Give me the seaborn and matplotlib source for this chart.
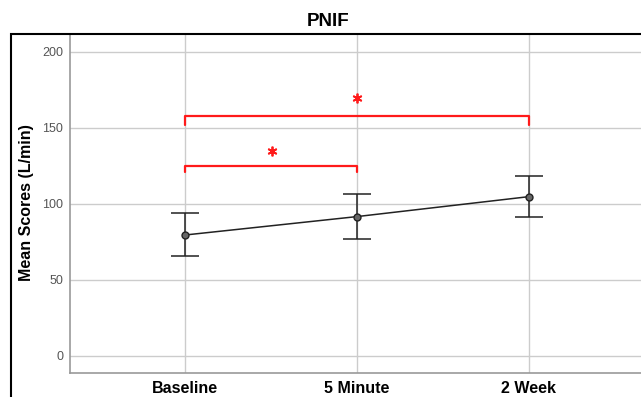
import numpy as np
import pandas as pd
import seaborn as sns
import matplotlib.pyplot as plt
from matplotlib.patches import Rectangle

# values
timepoints = ["Baseline", "5 Minute", "2 Week"]
mean_scores = [79.5, 91.6, 104.7]
err_low = [65.7, 76.7, 91.4]
err_high = [93.8, 106.5, 118.1]

# significance brackets: (start, end, bar height, drop, star x, star y)
brackets = [
    (0, 1, 124.9, 3.8, 0.506, 134.7),
    (0, 2, 157.5, 5.7, 1.0, 169.8),
]

dt = pd.DataFrame({"Time": timepoints, "Mean": mean_scores,
                   "Low": err_low, "High": err_high})
dt["pos"] = np.arange(len(dt))

sns.set_style("white")
plt.rcParams["font.family"] = ["Liberation Sans", "DejaVu Sans"]

fig = plt.figure(figsize=(6.41, 3.97), dpi=100)
ax = fig.add_axes([70 / 641, 24.3 / 397, 574 / 641, 338.4 / 397])

ax.errorbar(dt["pos"], dt["Mean"],
            yerr=[dt["Mean"] - dt["Low"], dt["High"] - dt["Mean"]],
            fmt="none", ecolor="#222222", elinewidth=1.1, capsize=10, capthick=1.1, zorder=3)
sns.lineplot(x="pos", y="Mean", data=dt, ax=ax, color="#222222", linewidth=1.1,
             marker="o", markersize=5, markerfacecolor="#666666",
             markeredgecolor="#222222", markeredgewidth=1, zorder=4)

for x0, x1, h, d, sx, sy in brackets:
    ax.plot([x0, x0, x1, x1], [h - d, h, h, h - d], color="#ff1a1a", linewidth=1.6, zorder=3)
    ax.plot([sx], [sy], marker=(6, 2, 0), markersize=7, color="#ff1a1a",
            markeredgewidth=1.3, linestyle="none")

ax.set_xlim(-0.67, 2.67)
ax.set_ylim(-11.0, 211.4)
ax.set_xticks(dt["pos"])
ax.set_xticklabels(dt["Time"], fontsize=11.5, fontweight="bold", color="black")
ax.set_yticks([0, 50, 100, 150, 200])
ax.tick_params(axis="y", labelsize=9, colors="#555555", length=4, width=0.8, pad=1)
ax.tick_params(axis="x", length=0, pad=6)
ax.grid(True, color="#cccccc", linewidth=1)
ax.set_axisbelow(True)
ax.set_xlabel("")
ax.set_ylabel("")

for side in ["top", "right"]:
    ax.spines[side].set_visible(False)
for side in ["left", "bottom"]:
    ax.spines[side].set_color("#999999")
    ax.spines[side].set_linewidth(1.2)

# outer chart frame
fig.patches.append(Rectangle((10.7 / 641, -0.2), 1.2, 0.2 + 362.7 / 397,
                             transform=fig.transFigure, fill=False,
                             edgecolor="black", linewidth=1.5, zorder=0))

fig.text(27 / 641, 1 - 203 / 397, "Mean Scores (L/min)", rotation=90, ha="center", va="center",
         fontsize=11.5, fontweight="bold", color="black")
fig.text(328 / 641, 1 - 22 / 397, "PNIF", ha="center", va="center", fontsize=13.5,
         fontweight="bold", color="black")

plt.savefig("out.png", dpi=100)
